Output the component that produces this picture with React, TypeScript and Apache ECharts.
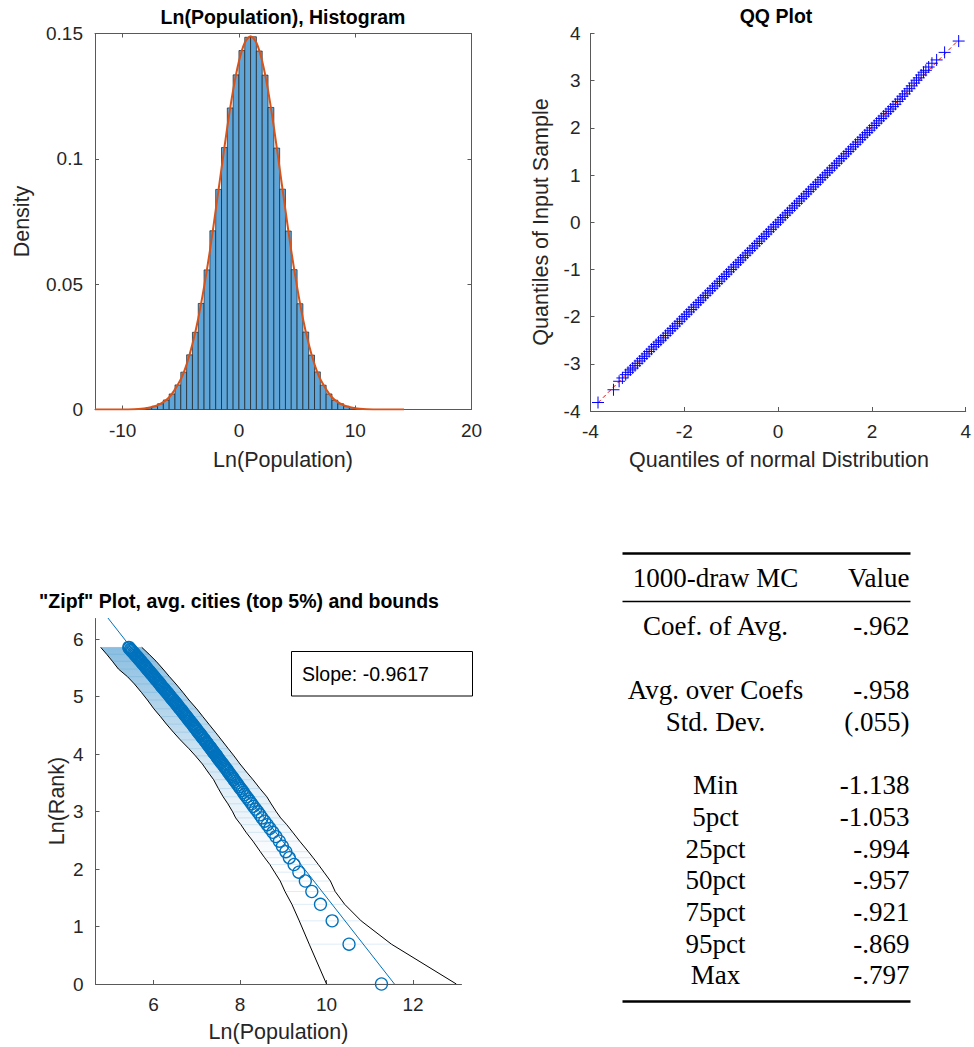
import { useEffect, useRef } from 'react';
import * as echarts from 'echarts';

// ---------- Histogram of ln(population) ----------
const histEdges = [
  -8, -7.5, -7, -6.5, -6, -5.5, -5, -4.5, -4, -3.5, -3, -2.5, -2, -1.5, -1, -0.5, 0, 0.5, 1,
  1.5, 2, 2.5, 3, 3.5, 4, 4.5, 5, 5.5, 6, 6.5, 7, 7.5, 8, 8.5, 9, 9.5, 10,
];
const histDensity = [
  0.0007, 0.0013, 0.0023, 0.0038, 0.0062, 0.0098, 0.0149, 0.0218, 0.0308, 0.0423, 0.0557, 0.0713,
  0.0878, 0.1045, 0.1203, 0.1335, 0.1432, 0.1485, 0.1487, 0.143, 0.1334, 0.1205, 0.1043, 0.0879,
  0.0712, 0.0558, 0.0422, 0.0309, 0.0217, 0.015, 0.0097, 0.0062, 0.0037, 0.0023, 0.0013, 0.0007,
];
// fitted normal density
const fitX = [
  -12.38, -10, -9, -8, -7, -6, -5, -4.5, -4, -3.5, -3, -2.5, -2, -1.5, -1, -0.5, 0, 0.5, 1, 1.5,
  2, 2.5, 3, 3.5, 4, 4.5, 5, 5.5, 6, 6.5, 7, 8, 9, 10, 11, 12, 14.2,
];
const fitDensity = [
  0, 0.00003, 0.0001, 0.0005, 0.0017, 0.0049, 0.0121, 0.018, 0.0261, 0.0363, 0.0489, 0.0633,
  0.0795, 0.0962, 0.1127, 0.1274, 0.1389, 0.1463, 0.1489, 0.1463, 0.1389, 0.1274, 0.1127, 0.0962,
  0.0795, 0.0633, 0.0489, 0.0363, 0.0261, 0.018, 0.0121, 0.0049, 0.0017, 0.0005, 0.0001, 0.00003, 0,
];
const histXTicks = [-10, 0, 10, 20];
const histYTicks = [0, 0.05, 0.1, 0.15];

// ---------- QQ plot ----------
const qqTheoretical = [
  -3.84, -3.51, -3.39, -3.32, -3.25, -3.2, -3.15,
  -3.1, -3.05, -3.0, -2.95, -2.9, -2.85, -2.8, -2.75, -2.7, -2.65,
  -2.6, -2.55, -2.5, -2.45, -2.4, -2.35, -2.3, -2.25, -2.2, -2.15,
  -2.1, -2.05, -2.0, -1.95, -1.9, -1.85, -1.8, -1.75, -1.7, -1.65,
  -1.6, -1.55, -1.5, -1.45, -1.4, -1.35, -1.3, -1.25, -1.2, -1.15,
  -1.1, -1.05, -1.0, -0.95, -0.9, -0.85, -0.8, -0.75, -0.7, -0.65,
  -0.6, -0.55, -0.5, -0.45, -0.4, -0.35, -0.3, -0.25, -0.2, -0.15,
  -0.1, -0.05, 0.0, 0.05, 0.1, 0.15, 0.2, 0.25, 0.3, 0.35,
  0.4, 0.45, 0.5, 0.55, 0.6, 0.65, 0.7, 0.75, 0.8, 0.85,
  0.9, 0.95, 1.0, 1.05, 1.1, 1.15, 1.2, 1.25, 1.3, 1.35,
  1.4, 1.45, 1.5, 1.55, 1.6, 1.65, 1.7, 1.75, 1.8, 1.85,
  1.9, 1.95, 2.0, 2.05, 2.1, 2.15, 2.2, 2.25, 2.3, 2.35,
  2.4, 2.45, 2.5, 2.55, 2.6, 2.65, 2.7, 2.75, 2.8, 2.85,
  2.9, 2.95, 3.0, 3.05, 3.1,
  3.15, 3.21, 3.28, 3.38, 3.55, 3.85,
];
const qqSample = [
  -3.82, -3.55, -3.37, -3.3, -3.23, -3.18, -3.13,
  -3.09, -3.04, -2.99, -2.94, -2.89, -2.84, -2.79, -2.74, -2.69, -2.64,
  -2.59, -2.54, -2.5, -2.45, -2.4, -2.35, -2.3, -2.25, -2.2, -2.15,
  -2.1, -2.05, -2.0, -1.95, -1.9, -1.85, -1.8, -1.75, -1.7, -1.65,
  -1.6, -1.55, -1.5, -1.45, -1.4, -1.35, -1.3, -1.25, -1.2, -1.15,
  -1.1, -1.05, -1.0, -0.95, -0.9, -0.85, -0.8, -0.75, -0.7, -0.65,
  -0.6, -0.55, -0.5, -0.45, -0.4, -0.35, -0.3, -0.25, -0.2, -0.15,
  -0.1, -0.05, 0.0, 0.05, 0.1, 0.15, 0.2, 0.25, 0.3, 0.35,
  0.4, 0.45, 0.5, 0.55, 0.6, 0.65, 0.7, 0.75, 0.8, 0.85,
  0.9, 0.95, 1.0, 1.05, 1.1, 1.15, 1.2, 1.25, 1.3, 1.35,
  1.4, 1.45, 1.5, 1.55, 1.6, 1.65, 1.7, 1.75, 1.8, 1.85,
  1.9, 1.95, 2.0, 2.05, 2.1, 2.15, 2.2, 2.25, 2.3, 2.35,
  2.4, 2.45, 2.5, 2.56, 2.61, 2.67, 2.72, 2.78, 2.83, 2.89,
  2.95, 3.01, 3.06, 3.12, 3.18,
  3.22, 3.29, 3.37, 3.44, 3.6, 3.84,
];
const qqRefX = [-3.84, 3.84];
const qqRefY = [-3.825, 3.855];

// ---------- Zipf plot ----------
const zipfRanks = [
  1, 2, 3, 4, 5, 6, 7, 8, 9, 10,
  11, 12, 13, 14, 15, 16, 17, 18, 19, 20,
  21, 22, 23, 24, 25, 26, 27, 28, 29, 30,
  31, 32, 33, 34, 35, 36, 37, 38, 39, 40,
  41, 42, 43, 44, 45, 46, 47, 48, 49, 50,
  51, 52, 53, 54, 55, 56, 57, 58, 59, 60,
  61, 62, 63, 65, 66, 67, 69, 70, 72, 73,
  75, 76, 78, 79, 81, 82, 84, 86, 87, 89,
  91, 93, 95, 97, 99, 101, 103, 105, 107, 109,
  111, 114, 116, 118, 121, 123, 126, 128, 131, 133,
  136, 139, 141, 144, 147, 150, 153, 156, 159, 162,
  166, 169, 172, 176, 179, 183, 187, 190, 194, 198,
  202, 206, 210, 214, 219, 223, 228, 232, 237, 242,
  246, 251, 256, 261, 267, 272, 277, 283, 289, 294,
  300, 306, 313, 319, 325, 332, 338, 345, 350,
];
const zipfAvgLnPop = [
  11.27, 10.52, 10.13, 9.86, 9.66, 9.51, 9.36, 9.25, 9.14, 9.06,
  8.98, 8.91, 8.83, 8.76, 8.69, 8.63, 8.57, 8.51, 8.46, 8.41,
  8.36, 8.31, 8.27, 8.23, 8.19, 8.15, 8.11, 8.08, 8.05, 8.01,
  7.98, 7.95, 7.92, 7.89, 7.86, 7.84, 7.81, 7.78, 7.76, 7.73,
  7.71, 7.69, 7.66, 7.64, 7.62, 7.6, 7.57, 7.55, 7.53, 7.51,
  7.49, 7.47, 7.46, 7.44, 7.42, 7.4, 7.38, 7.37, 7.35, 7.33,
  7.32, 7.3, 7.28, 7.25, 7.24, 7.22, 7.19, 7.18, 7.15, 7.13,
  7.11, 7.09, 7.07, 7.05, 7.03, 7.01, 6.99, 6.97, 6.95, 6.93,
  6.91, 6.89, 6.86, 6.84, 6.82, 6.8, 6.78, 6.76, 6.74, 6.72,
  6.7, 6.67, 6.66, 6.64, 6.61, 6.59, 6.57, 6.55, 6.53, 6.51,
  6.49, 6.46, 6.45, 6.42, 6.4, 6.38, 6.36, 6.34, 6.32, 6.29,
  6.27, 6.25, 6.23, 6.2, 6.18, 6.16, 6.14, 6.12, 6.1, 6.07,
  6.05, 6.03, 6.01, 5.99, 5.96, 5.94, 5.92, 5.9, 5.87, 5.85,
  5.83, 5.81, 5.79, 5.77, 5.74, 5.72, 5.7, 5.67, 5.65, 5.63,
  5.61, 5.58, 5.56, 5.54, 5.51, 5.49, 5.47, 5.44, 5.43,
];
const zipfBoundRanks = [
  1, 2, 3, 4, 5, 6, 7, 8, 9, 10, 12, 14, 16, 18, 20, 23, 26, 30,
  35, 40, 46, 53, 60, 70, 80, 92, 105, 120, 140, 160, 185, 210, 240, 275, 310, 350,
];
const zipfLower = [
  10.0, 9.6, 9.37, 9.2, 9.04, 8.93, 8.8, 8.69, 8.57, 8.47, 8.3, 8.14, 8.02, 7.9, 7.83, 7.72, 7.61, 7.5,
  7.39, 7.26, 7.13, 6.97, 6.82, 6.62, 6.46, 6.3, 6.16, 6.01, 5.86, 5.72, 5.56, 5.4, 5.19, 5.05, 4.92, 4.78,
];
const zipfUpper = [
  13.0, 11.5, 10.8, 10.42, 10.2, 10.09, 9.94, 9.81, 9.69, 9.58, 9.38, 9.22, 9.08, 8.94, 8.84, 8.72, 8.62, 8.46,
  8.3, 8.15, 8.0, 7.86, 7.73, 7.57, 7.43, 7.28, 7.14, 7.0, 6.82, 6.68, 6.52, 6.37, 6.22, 6.06, 5.9, 5.73,
];
const zipfSlope = -0.9617;
const zipfIntercept = 11.127;
const zipfFitLnPop = [4.9, 11.57];
const zipfXTicks = [6, 8, 10, 12];
const zipfYTicks = [0, 1, 2, 3, 4, 5, 6];

// ---------- Monte Carlo summary table ----------
const tableHeader = ['1000-draw MC', 'Value'];
const tableStats = ['Coef. of Avg.', 'Avg. over Coefs', 'Std. Dev.', 'Min', '5pct', '25pct', '50pct', '75pct', '95pct', 'Max'];
const tableValues = ['-.962', '-.958', '(.055)', '-1.138', '-1.053', '-.994', '-.957', '-.921', '-.869', '-.797'];

const SANS = '"Liberation Sans", Arial, Helvetica, sans-serif';
const SERIF = '"Liberation Serif", "Times New Roman", serif';
const AXIS = '#595959';
const INK = '#262626';
const MATLAB_BLUE = '#0072BD';

function axisBase(extra: any) {
  return {
    type: 'value',
    splitLine: { show: false },
    axisLine: { show: true, onZero: false, lineStyle: { color: AXIS, width: 1 } },
    axisTick: { show: true, inside: true, length: 4, lineStyle: { color: AXIS, width: 1 } },
    axisLabel: { show: true, color: INK, fontSize: 19, fontFamily: SANS, margin: 11 },
    ...extra,
  };
}

function label(text: string, x: number, y: number, size: number, opts: any = {}) {
  return {
    type: 'text',
    x,
    y,
    rotation: opts.rotation || 0,
    z: 100,
    silent: true,
    style: {
      text,
      fill: opts.fill || INK,
      font: `${opts.bold ? 'bold ' : ''}${size}px ${opts.family || SANS}`,
      align: opts.align || 'center',
      verticalAlign: 'middle',
      textAlign: opts.align || 'center',
      textVerticalAlign: 'middle',
    },
  };
}

function buildOption() {
  const histData = histDensity.map((d, i) => [histEdges[i], histEdges[i + 1], d]);
  const fitData = fitX.map((x, i) => [x, fitDensity[i]]);
  const qqData = qqTheoretical.map((x, i) => [x, qqSample[i]]);
  const qqRef = qqRefX.map((x, i) => [x, qqRefY[i]]);
  const zipfAvg = zipfRanks.map((r, i) => [zipfAvgLnPop[i], Math.log(r)]);
  const lowerLine = zipfBoundRanks.map((r, i) => [zipfLower[i], Math.log(r)]);
  const upperLine = zipfBoundRanks.map((r, i) => [zipfUpper[i], Math.log(r)]);
  const hatch = zipfBoundRanks.map((r, i) => [zipfLower[i], zipfUpper[i], Math.log(r)]);
  const fitLine = zipfFitLnPop.map((x) => [x, zipfIntercept + zipfSlope * x]);

  const tableLeftX = 715.5;
  const tableRightX = 909.5;
  const tableFont = 27;
  const rowY = [626, 689.5, 721.5, 785, 817, 848.5, 880, 912, 943.5, 975];

  const graphic: any[] = [
    label('Ln(Population), Histogram', 283, 17, 19.5, { bold: true, fill: '#000' }),
    label('QQ Plot', 776, 15.5, 19.5, { bold: true, fill: '#000' }),
    label('"Zipf" Plot, avg. cities (top 5%) and bounds', 239, 600.5, 19.5, { bold: true, fill: '#000' }),
    label('Density', 22, 221.5, 21.5, { rotation: Math.PI / 2 }),
    label('Ln(Population)', 283, 460, 21.5),
    label('Quantiles of Input Sample', 541, 222, 21.5, { rotation: Math.PI / 2 }),
    label('Quantiles of normal Distribution', 779, 460, 21.5),
    label('Ln(Rank)', 57, 801, 21.5, { rotation: Math.PI / 2 }),
    label('Ln(Population)', 278.5, 1032, 21.5),
    {
      type: 'rect',
      z: 100,
      silent: true,
      shape: { x: 291.5, y: 651.5, width: 181, height: 44.5 },
      style: { fill: '#fff', stroke: '#000', lineWidth: 1 },
    },
    label(`Slope: ${zipfSlope.toFixed(4)}`, 302, 674, 19.5, { align: 'left', fill: '#000' }),
    // table rules
    { type: 'line', z: 100, silent: true, shape: { x1: 622.5, y1: 553.5, x2: 910.5, y2: 553.5 }, style: { stroke: '#000', lineWidth: 2.5 } },
    { type: 'line', z: 100, silent: true, shape: { x1: 622.5, y1: 601.5, x2: 910.5, y2: 601.5 }, style: { stroke: '#000', lineWidth: 1.5 } },
    { type: 'line', z: 100, silent: true, shape: { x1: 622.5, y1: 1001.5, x2: 910.5, y2: 1001.5 }, style: { stroke: '#000', lineWidth: 2.5 } },
    label(tableHeader[0], tableLeftX, 578, tableFont, { family: SERIF, fill: '#000' }),
    label(tableHeader[1], tableRightX, 578, tableFont, { family: SERIF, fill: '#000', align: 'right' }),
  ];
  tableStats.forEach((s, i) => {
    graphic.push(label(s, tableLeftX, rowY[i], tableFont, { family: SERIF, fill: '#000' }));
    graphic.push(label(tableValues[i], tableRightX, rowY[i], tableFont, { family: SERIF, fill: '#000', align: 'right' }));
  });

  return {
    animation: false,
    backgroundColor: '#fff',
    grid: [
      { left: 95, top: 33.5, width: 376.5, height: 376 },
      { left: 590.5, top: 33.5, width: 377.5, height: 377.5 },
      { left: 95.5, top: 618.5, width: 366, height: 365.5 },
    ],
    xAxis: [
      axisBase({
        gridIndex: 0, min: -12.38, max: 20, position: 'bottom',
        axisTick: { show: true, inside: true, length: 4, customValues: histXTicks, lineStyle: { color: AXIS } },
        axisLabel: { color: INK, fontSize: 19, fontFamily: SANS, margin: 11, customValues: histXTicks },
      }),
      axisBase({
        gridIndex: 0, min: -12.38, max: 20, position: 'top',
        axisTick: { show: true, inside: true, length: 4, customValues: histXTicks, lineStyle: { color: AXIS } },
        axisLabel: { show: false },
      }),
      axisBase({ gridIndex: 1, min: -4, max: 4, interval: 2, position: 'bottom' }),
      axisBase({
        gridIndex: 2, min: 4.66, max: 13.12, position: 'bottom',
        axisTick: { show: true, inside: true, length: 4, customValues: zipfXTicks, lineStyle: { color: AXIS } },
        axisLabel: { color: INK, fontSize: 19, fontFamily: SANS, margin: 11, customValues: zipfXTicks },
      }),
    ],
    yAxis: [
      axisBase({
        gridIndex: 0, min: 0, max: 0.15, position: 'left',
        axisTick: { show: true, inside: true, length: 4, customValues: histYTicks, lineStyle: { color: AXIS } },
        axisLabel: {
          color: INK, fontSize: 19, fontFamily: SANS, margin: 12, customValues: histYTicks,
          formatter: (v: number) => String(Math.round(v * 100) / 100),
        },
      }),
      axisBase({
        gridIndex: 0, min: 0, max: 0.15, position: 'right',
        axisTick: { show: true, inside: true, length: 4, customValues: histYTicks, lineStyle: { color: AXIS } },
        axisLabel: { show: false },
      }),
      axisBase({
        gridIndex: 1, min: -4, max: 4, interval: 1, position: 'left',
        axisLabel: { color: INK, fontSize: 19, fontFamily: SANS, margin: 10 },
      }),
      axisBase({
        gridIndex: 2, min: 0, max: 6.36, position: 'left',
        axisTick: { show: true, inside: true, length: 4, customValues: zipfYTicks, lineStyle: { color: AXIS } },
        axisLabel: { color: INK, fontSize: 19, fontFamily: SANS, margin: 12, customValues: zipfYTicks },
      }),
    ],
    series: [
      {
        type: 'custom',
        xAxisIndex: 0,
        yAxisIndex: 0,
        silent: true,
        clip: true,
        z: 2,
        data: histData,
        encode: { x: [0, 1], y: 2 },
        renderItem: (_p: any, api: any) => {
          const a = api.coord([api.value(0), api.value(2)]);
          const b = api.coord([api.value(1), 0]);
          return {
            type: 'rect',
            shape: { x: a[0], y: a[1], width: b[0] - a[0], height: b[1] - a[1] },
            style: { fill: '#5EA6DA', stroke: '#1c1c1c', lineWidth: 0.7 },
          };
        },
      },
      {
        type: 'line',
        xAxisIndex: 0,
        yAxisIndex: 0,
        silent: true,
        z: 3,
        data: fitData,
        smooth: 0.3,
        symbol: 'none',
        lineStyle: { color: '#D95319', width: 2 },
      },
      {
        type: 'line',
        xAxisIndex: 2,
        yAxisIndex: 2,
        silent: true,
        z: 2,
        data: qqRef,
        symbol: 'none',
        lineStyle: { color: '#FF0000', width: 1, type: [4, 3] },
      },
      {
        type: 'scatter',
        xAxisIndex: 2,
        yAxisIndex: 2,
        silent: true,
        z: 3,
        data: qqData,
        symbol: 'path://M0,6L12,6M6,0L6,12',
        symbolSize: 12,
        itemStyle: { color: 'rgba(0,0,0,0)', borderColor: '#0000FF', borderWidth: 1, opacity: 1 },
      },
      {
        type: 'custom',
        xAxisIndex: 3,
        yAxisIndex: 3,
        silent: true,
        clip: true,
        z: 1,
        data: [[zipfLower[0], 0]],
        renderItem: (_p: any, api: any) => {
          const pts: number[][] = [];
          zipfBoundRanks.forEach((r, i) => pts.push(api.coord([zipfLower[i], Math.log(r)])));
          for (let i = zipfBoundRanks.length - 1; i >= 0; i--) {
            pts.push(api.coord([zipfUpper[i], Math.log(zipfBoundRanks[i])]));
          }
          return {
            type: 'polygon',
            shape: { points: pts },
            style: {
              fill: new echarts.graphic.LinearGradient(0, 0, 0, 1, [
                { offset: 0, color: 'rgba(0,114,189,0.46)' },
                { offset: 0.146, color: 'rgba(0,114,189,0.33)' },
                { offset: 0.317, color: 'rgba(0,114,189,0.19)' },
                { offset: 0.454, color: 'rgba(0,114,189,0.1)' },
                { offset: 0.573, color: 'rgba(0,114,189,0.035)' },
                { offset: 0.68, color: 'rgba(0,114,189,0)' },
                { offset: 1, color: 'rgba(0,114,189,0)' },
              ]),
            },
          };
        },
      },
      {
        type: 'custom',
        xAxisIndex: 3,
        yAxisIndex: 3,
        silent: true,
        clip: true,
        z: 2,
        data: hatch,
        encode: { x: [0, 1], y: 2 },
        renderItem: (_p: any, api: any) => {
          const y = api.value(2);
          const a = api.coord([api.value(0), y]);
          const b = api.coord([api.value(1), y]);
          return {
            type: 'line',
            shape: { x1: a[0], y1: a[1], x2: b[0], y2: b[1] },
            style: { stroke: 'rgba(0,114,189,0.13)', lineWidth: 1 },
          };
        },
      },
      {
        type: 'line',
        xAxisIndex: 3,
        yAxisIndex: 3,
        silent: true,
        z: 3,
        data: lowerLine,
        symbol: 'none',
        lineStyle: { color: '#000', width: 1 },
      },
      {
        type: 'line',
        xAxisIndex: 3,
        yAxisIndex: 3,
        silent: true,
        z: 3,
        data: upperLine,
        symbol: 'none',
        lineStyle: { color: '#000', width: 1 },
      },
      {
        type: 'line',
        xAxisIndex: 3,
        yAxisIndex: 3,
        silent: true,
        z: 4,
        clip: true,
        data: fitLine,
        symbol: 'none',
        lineStyle: { color: MATLAB_BLUE, width: 1 },
      },
      {
        type: 'scatter',
        xAxisIndex: 3,
        yAxisIndex: 3,
        silent: true,
        z: 5,
        data: zipfAvg,
        symbol: 'circle',
        symbolSize: 12,
        itemStyle: { color: 'rgba(0,0,0,0)', borderColor: MATLAB_BLUE, borderWidth: 1.3, opacity: 1 },
      },
    ],
    graphic,
  };
}

export default function App() {
  const ref = useRef<HTMLDivElement>(null);
  useEffect(() => {
    if (!ref.current) return;
    const chart = echarts.init(ref.current, null, { renderer: 'svg' });
    chart.setOption(buildOption() as any);
    return () => chart.dispose();
  }, []);
  return (
    <div
      ref={ref}
      style={{ position: 'absolute', left: 0, top: 0, width: 974, height: 1047, background: '#fff' }}
    />
  );
}
